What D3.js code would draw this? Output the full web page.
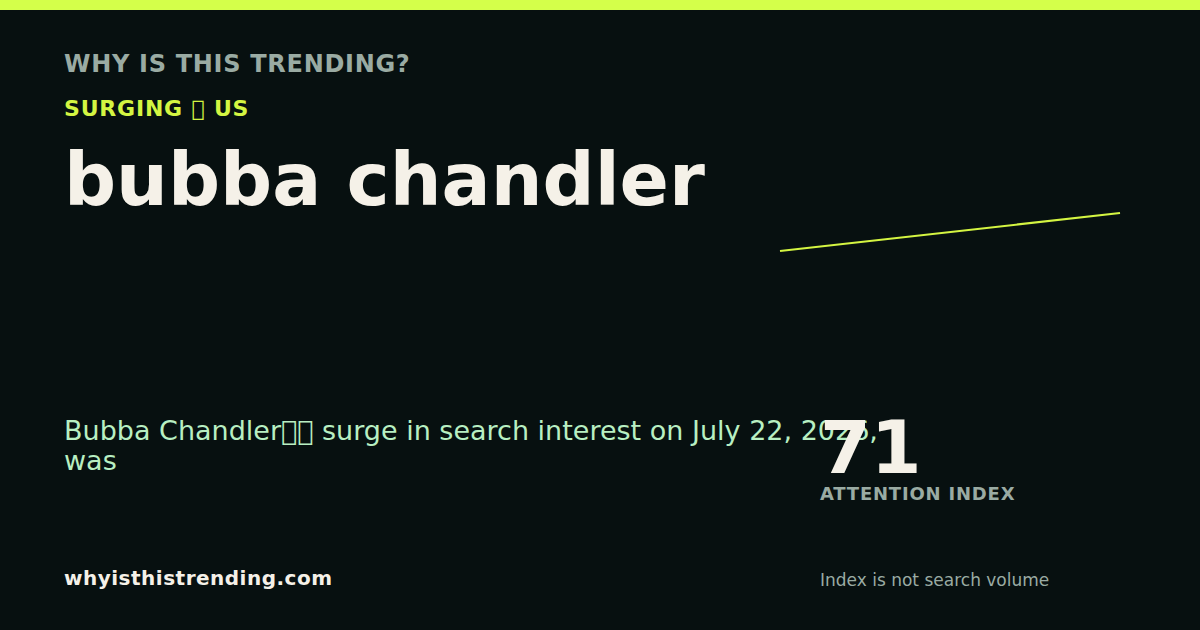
<!DOCTYPE html>
<html><head><meta charset="utf-8">
<script src="https://cdn.jsdelivr.net/npm/d3@7"></script>
<style>html,body{margin:0;padding:0;background:#071010;}svg{display:block;}</style>
</head><body>
<svg id="c" width="1200" height="630"></svg>
<script>
const kicker = "WHY IS THIS TRENDING?";
const status = "SURGING \uE000 US";
const topic = "bubba chandler";
const summaryLines = ["Bubba Chandler\uE000\uE001 surge in search interest on July 22, 2026,", "was"];
const scoreValue = 71;
const scoreLabel = "ATTENTION INDEX";
const note = "Index is not search volume";
const site = "whyisthistrending.com";
const sparkPeriods = [0, 1];
const sparkValues = [62, 71];

const svg = d3.select("#c");
const font = "'DejaVu Sans', sans-serif";
svg.append("rect").attr("width",1200).attr("height",630).attr("fill","#071010");
svg.append("rect").attr("width",1200).attr("height",10).attr("fill","#d4ff4a");

function txt(t,x,y,size,weight,color){
  return svg.append("text").attr("x",x).attr("y",y).attr("font-family",font)
    .attr("font-size",size).attr("font-weight",weight).attr("fill",color).text(t);
}
txt(kicker,64,72,24,"bold","#9aaba3").attr("letter-spacing",0.7);
txt(status,64,116,22,"bold","#d4f542").attr("letter-spacing",0.8);
txt(topic,64,205,72.8,"bold","#f5f1e8");

const x = d3.scaleLinear().domain(d3.extent(sparkPeriods)).range([780,1120]);
const y = d3.scaleLinear().domain(d3.extent(sparkValues)).range([251,213]);
const line = d3.line().x((d,i)=>x(sparkPeriods[i])).y(d=>y(d));
svg.append("path").datum(sparkValues).attr("d",line).attr("fill","none")
  .attr("stroke","#d4f542").attr("stroke-width",2);

const body = svg.append("text").attr("font-family",font).attr("font-size",27).attr("fill","#b8efc2");
summaryLines.forEach((l,i)=>body.append("tspan").attr("x",64).attr("y",440+i*30).text(l));

txt(String(scoreValue),820,473,73,"bold","#f5f1e8");
txt(scoreLabel,820,500,18,"bold","#9aaba3").attr("letter-spacing",0.8);
txt(note,820,586,17,"normal","#9aaba3");
txt(site,64,585,20,"bold","#f5f1e8").attr("letter-spacing",0.5);
</script>
</body></html>
